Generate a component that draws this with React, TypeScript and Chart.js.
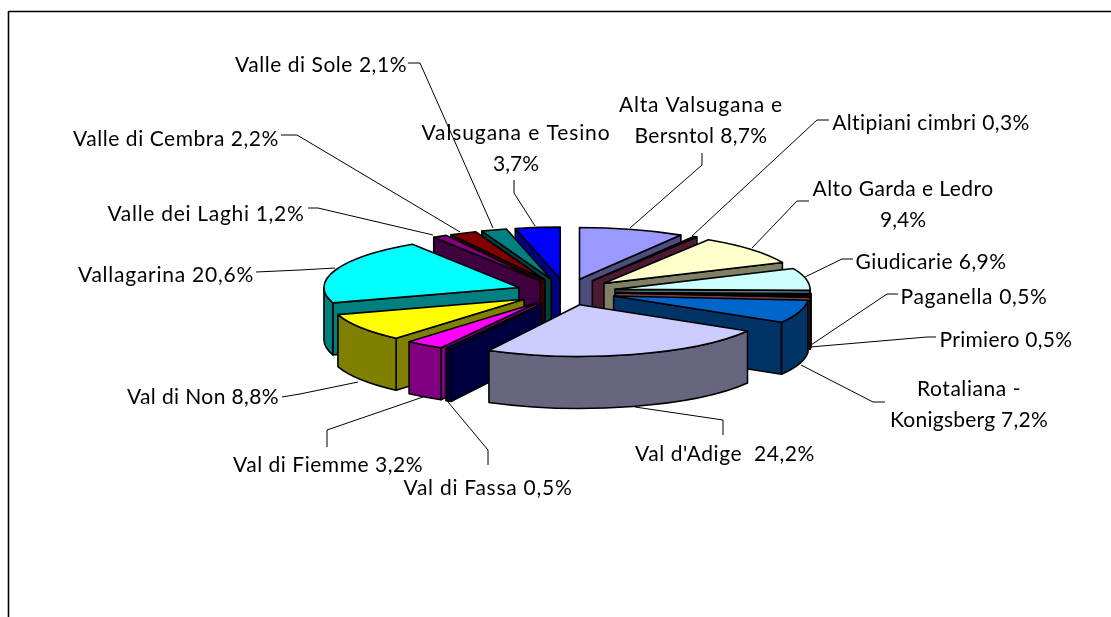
import React, { useEffect, useRef } from "react";
import { Chart, registerables } from "chart.js";

Chart.register(...registerables);

const categories = [
  "Alta Valsugana e Bersntol", "Altipiani cimbri", "Alto Garda e Ledro", "Giudicarie",
  "Paganella", "Primiero", "Rotaliana - Konigsberg", "Val d'Adige", "Val di Fassa",
  "Val di Fiemme", "Val di Non", "Vallagarina", "Valle dei Laghi", "Valle di Cembra",
  "Valle di Sole", "Valsugana e Tesino",
];
const shares = [8.7, 0.3, 9.4, 6.9, 0.5, 0.5, 7.2, 24.2, 0.5, 3.2, 8.8, 20.6, 1.2, 2.2, 2.1, 3.7];
const topColors = [
  "#9999FF", "#993366", "#FFFFCC", "#CCFFFF", "#660066", "#FF8080", "#0066CC", "#CCCCFF",
  "#000080", "#FF00FF", "#FFFF00", "#00FFFF", "#800080", "#800000", "#008080", "#0000FF",
];
const labelLines = [
  ["Alta Valsugana e", "Bersntol 8,7%"], ["Altipiani cimbri 0,3%"], ["Alto Garda e Ledro", "9,4%"],
  ["Giudicarie 6,9%"], ["Paganella 0,5%"], ["Primiero 0,5%"], ["Rotaliana -", "Konigsberg 7,2%"],
  ["Val d'Adige  24,2%"], ["Val di Fassa 0,5%"], ["Val di Fiemme 3,2%"], ["Val di Non 8,8%"],
  ["Vallagarina 20,6%"], ["Valle dei Laghi 1,2%"], ["Valle di Cembra 2,2%"], ["Valle di Sole 2,1%"],
  ["Valsugana e Tesino", "3,7%"],
];
// layout of labels: centre x, middle y of the first line
const labelAnchors = [
  [701, 105], [931, 123], [903, 189], [931, 262], [974, 297], [1006, 340], [969, 389], [725, 454],
  [488, 488], [328, 465], [203, 397], [166, 275], [206, 214], [176, 139], [321, 65], [516, 133],
];
// layout of labels: width of each line in pixels
const labelWidths = [
  [164, 133], [198], [181, 46], [151], [147], [133], [104, 158], [180], [169], [190], [152],
  [176], [197], [206], [172], [189, 46],
];
// layout of leader lines
const leaders = [
  [[630, 228], [702, 165], [702, 153]],
  [[692, 236], [817, 120], [829, 120]],
  [[752, 248], [797, 201], [809, 201]],
  [[805, 277], [842, 259], [853, 259]],
  [[811, 345], [887, 294], [898, 294]],
  [[810, 347], [927, 337], [936, 337]],
  [[801, 365], [873, 402], [885, 402]],
  [[635, 407], [723, 420], [723, 435]],
  [[448, 402], [488, 450], [488, 465]],
  [[423, 397], [327, 430], [327, 447]],
  [[358, 382], [300, 394], [282, 397]],
  [[335, 268], [300, 270], [256, 272]],
  [[433, 235], [318, 208], [308, 208]],
  [[460, 232], [297, 135], [281, 135]],
  [[493, 228], [420, 63], [408, 63]],
  [[535, 226], [514, 193], [514, 180]],
];

const TILT = 0.265;
const DEPTH = 52;
const RADIUS = 195;
const EXPLODE = 50;
const FONT = '21px Lato, "Open Sans", sans-serif';

function halve(hex: string) {
  const n = parseInt(hex.slice(1), 16);
  const c = [(n >> 16) & 255, (n >> 8) & 255, n & 255].map((v) => Math.round(v / 2));
  return `rgb(${c[0]},${c[1]},${c[2]})`;
}

const piePainter = {
  id: "piePainter",
  beforeDatasetsDraw(chart: any) {
    const ctx: CanvasRenderingContext2D = chart.ctx;
    const arcs = chart.getDatasetMeta(0).data as any[];
    ctx.save();
    ctx.fillStyle = "#fff";
    ctx.fillRect(0, 0, chart.width, chart.height);
    ctx.strokeStyle = "#000";
    ctx.lineWidth = 1.6;
    ctx.lineJoin = "round";
    ctx.beginPath();
    ctx.moveTo(8.5, chart.height);
    ctx.lineTo(8.5, 11.5);
    ctx.lineTo(chart.width, 11.5);
    ctx.stroke();

    const order = arcs
      .map((arc, i) => ({ arc, i, mid: (arc.startAngle + arc.endAngle) / 2 }))
      .sort((a, b) => Math.sin(a.mid) - Math.sin(b.mid));

    const face = (fill: string, build: () => void) => {
      ctx.beginPath();
      build();
      ctx.closePath();
      ctx.fillStyle = fill;
      ctx.fill();
      ctx.stroke();
    };

    for (const { arc, i, mid } of order) {
      const e = arc.options.offset;
      const R = arc.outerRadius;
      const ax = arc.x + Math.cos(mid) * e;
      const ay = arc.y + Math.sin(mid) * e * TILT;
      const px = (a: number) => ax + R * Math.cos(a);
      const py = (a: number) => ay + R * TILT * Math.sin(a);
      const s = arc.startAngle;
      const t = arc.endAngle;
      const side = halve(topColors[i]);
      const wall = (a: number) =>
        face(side, () => {
          ctx.moveTo(ax, ay);
          ctx.lineTo(px(a), py(a));
          ctx.lineTo(px(a), py(a) + DEPTH);
          ctx.lineTo(ax, ay + DEPTH);
        });
      if (Math.cos(s) < 0) wall(s);
      if (Math.cos(t) > 0) wall(t);
      const a0 = Math.max(s, 0);
      const a1 = Math.min(t, Math.PI);
      if (a1 > a0) {
        face(side, () => {
          ctx.ellipse(ax, ay, R, R * TILT, 0, a0, a1);
          ctx.lineTo(px(a1), py(a1) + DEPTH);
          ctx.ellipse(ax, ay + DEPTH, R, R * TILT, 0, a1, a0, true);
        });
      }
      face(topColors[i], () => {
        ctx.moveTo(ax, ay);
        ctx.ellipse(ax, ay, R, R * TILT, 0, s, t);
      });
    }
    ctx.restore();
    return false;
  },
  afterDraw(chart: any) {
    const ctx: CanvasRenderingContext2D = chart.ctx;
    ctx.save();
    ctx.strokeStyle = "#000";
    ctx.lineWidth = 1;
    for (const pts of leaders) {
      ctx.beginPath();
      pts.forEach((p, k) => (k ? ctx.lineTo(p[0], p[1]) : ctx.moveTo(p[0], p[1])));
      ctx.stroke();
    }
    ctx.fillStyle = "#000";
    ctx.font = FONT;
    ctx.textAlign = "center";
    ctx.textBaseline = "middle";
    labelLines.forEach((lines, i) => {
      lines.forEach((line, k) => {
        (ctx as any).letterSpacing = "0px";
        const natural = ctx.measureText(line).width;
        (ctx as any).letterSpacing = `${(labelWidths[i][k] - natural) / line.length}px`;
        ctx.fillText(line, labelAnchors[i][0], labelAnchors[i][1] + k * 31);
      });
    });
    ctx.restore();
  },
};

export default function App() {
  const ref = useRef<HTMLCanvasElement>(null);
  useEffect(() => {
    document.body.style.margin = "0";
    const chart = new Chart(ref.current!, {
      type: "pie",
      data: {
        labels: categories,
        datasets: [{ data: shares, backgroundColor: topColors, offset: EXPLODE, borderWidth: 0 }],
      },
      options: {
        animation: false,
        responsive: false,
        events: [],
        radius: RADIUS,
        layout: { padding: { left: 21, bottom: 33 } },
        plugins: { legend: { display: false }, tooltip: { enabled: false } },
      } as any,
      plugins: [piePainter as any],
    });
    return () => chart.destroy();
  }, []);
  return <canvas ref={ref} width={1111} height={617} style={{ display: "block", width: 1111, height: 617 }} />;
}
